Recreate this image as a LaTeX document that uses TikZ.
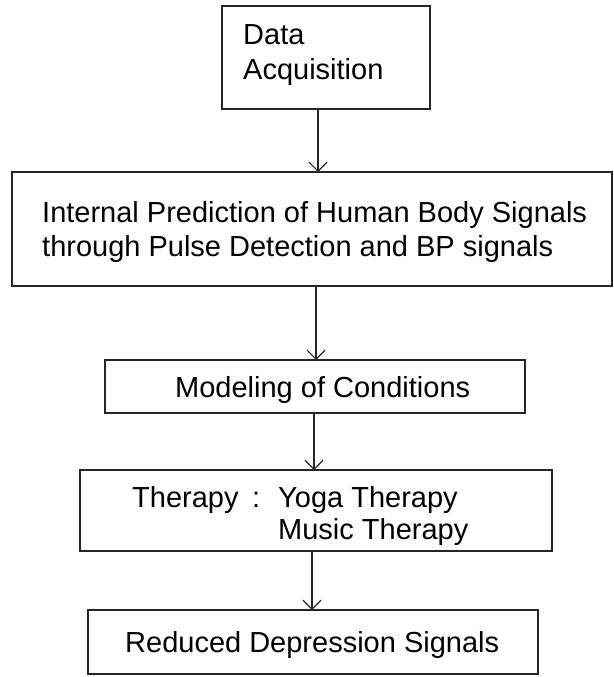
\documentclass[tikz,border=0pt]{standalone}
\usepackage{fontspec}
\setmainfont{Liberation Sans}
\usetikzlibrary{arrows.meta}
\tikzset{
  x=1pt,y=-1pt,
  box/.style={draw=black!85,line width=1.8pt},
  conn/.style={draw=black!85,line width=1.4pt,-{Straight Barb[length=9pt,width=18pt,line width=1.2pt]}},
  txt/.style={anchor=base west,inner sep=0pt,font=\fontsize{29}{33}\selectfont},
}
\begin{document}
\begin{tikzpicture}
\useasboundingbox (0,0) rectangle (613,677);
% boxes
\draw[box] (222,6) rectangle (430,109);
\coordinate (b1) at (318,109);
\draw[box] (12,172) rectangle (612,286);
\coordinate (b2t) at (318,172);
\coordinate (b2b) at (316,286);
\draw[box] (105,360) rectangle (525,413);
\coordinate (b3t) at (316,360);
\coordinate (b3b) at (314,413);
\draw[box] (80,470) rectangle (552,551);
\coordinate (b4t) at (314,470);
\coordinate (b4b) at (312,551);
\draw[box] (88,610) rectangle (538,674);
\coordinate (b5t) at (312,610);
% texts
\node[txt] (t1a) at (243,45) {Data};
\node[txt] (t1b) at (243,80) {Acquisition};
\node[txt] (t2a) at (42,222) {Internal Prediction of Human Body Signals};
\node[txt] (t2b) at (42,256) {through Pulse Detection and BP signals};
\node[txt] (t3) at (175,397) {Modeling of Conditions};
\node[txt] (t4a) at (132,507) {Therapy};
\node[txt] (t4c) at (252,507) {:};
\node[txt] (t4b) at (278,507) {Yoga Therapy};
\node[txt] (t4d) at (278,539) {Music Therapy};
\node[txt] (t5) at (125,652) {Reduced Depression Signals};
% connectors
\draw[conn] (b1) -- (b2t);
\draw[conn] (b2b) -- (b3t);
\draw[conn] (b3b) -- (b4t);
\draw[conn] (b4b) -- (b5t);
\end{tikzpicture}
\end{document}
